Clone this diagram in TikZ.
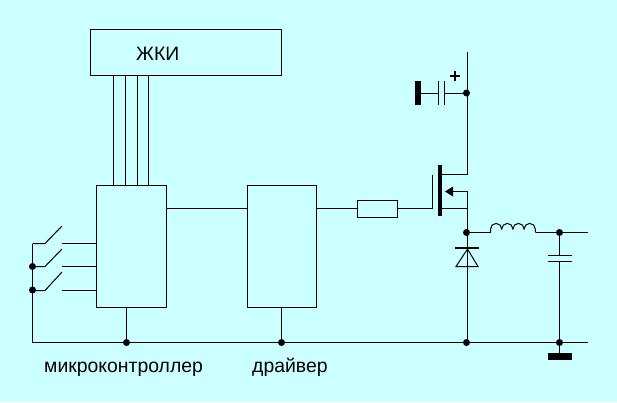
\documentclass[tikz,border=0pt]{standalone}
\usepackage{fontspec}
\setmainfont{Liberation Sans}
\usetikzlibrary{calc}
\definecolor{bgc}{HTML}{CCFFFF}
\tikzset{
  x=1pt,y=-1pt,
  wire/.style={draw=black,line width=1pt},
  block/.style={draw=black,line width=1pt,inner sep=0pt,outer sep=0pt,rectangle,anchor=north west},
  junction/.style={circle,fill=black,inner sep=0pt,minimum size=7pt},
  bar/.style={fill=black,inner sep=0pt,outer sep=0pt,rectangle,anchor=north west},
  lab/.style={inner sep=0pt,anchor=base west,font=\fontsize{19.4}{22}\selectfont}
}
\begin{document}
\begin{tikzpicture}
\useasboundingbox (0,0) rectangle (617,402);
\fill[bgc] (0,0) rectangle (617,402);
% blocks
\node[block,minimum width=191pt,minimum height=46pt] (lcd) at (90.5,29.5) {};
\node[lab] (lcdt) at (136,60) {ЖКИ};
\node[block,minimum width=70pt,minimum height=122pt] (mcu) at (96.5,185.5) {};
\node[block,minimum width=69pt,minimum height=122pt] (drv) at (247.5,185.5) {};
\node[block,minimum width=40pt,minimum height=17pt] (res) at (357.5,200.5) {};
\node[lab] (mcut) at (44,372) {микроконтроллер};
\node[lab] (drvt) at (252,372) {драйвер};
% junctions
\node[junction] (jc) at (466.5,93) {};
\node[junction] (js) at (466.5,232.5) {};
\node[junction] (jl) at (559.5,232.5) {};
\node[junction] (jm) at (126.5,342.5) {};
\node[junction] (jd) at (281.5,342.5) {};
\node[junction] (jg) at (466.5,342.5) {};
\node[junction] (jo) at (559.5,342.5) {};
\node[junction] (ja) at (32.5,266.5) {};
\node[junction] (jb) at (32.5,290) {};
% bus
\foreach \x in {113.5,125.5,137.5,148.5}
  \draw[wire] (\x,75) -- (\x,185);
% signal chain
\draw[wire] (166,208.5) -- (247,208.5);
\draw[wire] (316,208.5) -- (357.5,208.5);
\coordinate (gate) at (432.5,208.5);
\draw[wire] (397.5,208.5) -- (gate) -- (432.5,175);
% mosfet
\node[bar,minimum width=4pt,minimum height=51pt] (chan) at (438,165) {};
\coordinate (top) at (467.5,52);
\draw[wire] (442,174.5) -- (467.5,174.5) -- (top);
\draw[wire] (442,208.5) -- (467.5,208.5);
\draw[wire] (450,191.5) -- (467.5,191.5) -- (467.5,342);
\fill (445,191.5) -- (453,186.5) -- (453,196.5) -- cycle;
% input capacitor
\node[bar,minimum width=6pt,minimum height=24pt] (cb) at (415,81) {};
\draw[wire] (421,93.5) -- (438.5,93.5);
\draw[wire] (438.5,81) -- (438.5,105);
\draw[wire] (444.5,81) -- (444.5,105);
\draw[wire] (444.5,93.5) -- (466.5,93.5);
\draw[line width=2pt] (450,76) -- (460,76) (455,71) -- (455,81);
% output
\coordinate (out) at (588,232.5);
\draw[wire] (467.5,232.5) -- (490.5,232.5);
\draw[wire] (490.5,232.5) -- (490.5,229)
  arc[start angle=180,end angle=0,radius=5.6pt]
  arc[start angle=180,end angle=0,radius=5.6pt]
  arc[start angle=180,end angle=0,radius=5.6pt]
  arc[start angle=180,end angle=0,radius=5.6pt] -- (535.5,232.5);
\draw[wire] (535.5,232.5) -- (out);
% diode
\draw[line width=2pt] (455,248) -- (479,248);
\draw[wire] (467.5,249) -- (456,266.5) -- (478,266.5) -- cycle;
% output cap
\draw[wire] (559.5,232) -- (559.5,255.5);
\draw[wire] (548,255.5) -- (572,255.5);
\draw[wire] (548,261.5) -- (572,261.5);
\draw[wire] (559.5,261.5) -- (559.5,353);
\node[bar,minimum width=24pt,minimum height=7pt] (gnd) at (548,353) {};
% ground rail
\coordinate (railr) at (588,342.5);
\draw[wire] (32.5,243.5) -- (32.5,342.5) -- (railr);
\draw[wire] (126.5,307) -- (jm);
\draw[wire] (281.5,307) -- (jd);
% switches
\foreach \y/\t in {243.5/226,266.5/249,290.5/272}{
  \draw[wire] (32.5,\y) -- (45,\y) -- (62,\t);
  \draw[wire] (62,\y) -- (96.5,\y);
}
\end{tikzpicture}
\end{document}
